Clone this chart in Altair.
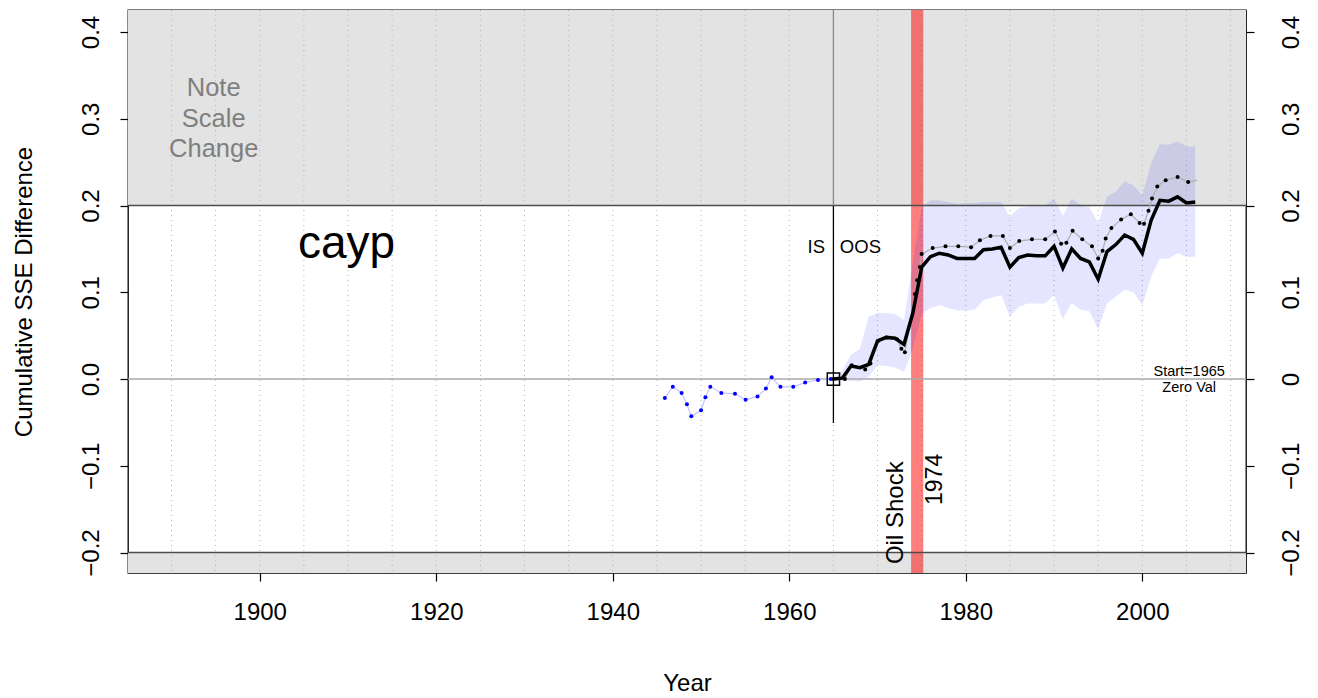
import altair as alt
import pandas as pd

# ---------------- data ----------------
# In-sample (blue dotted) series
is_years = [1945.9, 1946.8, 1947.8, 1948.4, 1948.9, 1950.0, 1950.5, 1951.05, 1952.3, 1953.85,
            1955.05, 1956.4, 1957.35, 1958.0, 1959.0, 1960.45, 1961.8, 1963.25, 1964.7]
is_vals = [-0.022, -0.009, -0.016, -0.029, -0.043, -0.036, -0.021, -0.009, -0.016, -0.017,
           -0.024, -0.020, -0.011, 0.002, -0.009, -0.009, -0.004, -0.001, 0.0]

# Out-of-sample main (solid black) series
oos_years = list(range(1965, 2007))
oos_vals = [0.000, 0.001, 0.015, 0.013, 0.017, 0.044, 0.048, 0.047, 0.040, 0.076,
            0.129, 0.141, 0.145, 0.143, 0.139, 0.139, 0.139, 0.149, 0.150, 0.152,
            0.129, 0.140, 0.143, 0.142, 0.142, 0.153, 0.128, 0.150, 0.139, 0.135,
            0.115, 0.147, 0.155, 0.166, 0.161, 0.145, 0.183, 0.206, 0.205, 0.210,
            0.203, 0.204]

# Secondary (dotted, gray line + black dots) series
dot_years = [1965.0, 1966.3, 1967.07, 1968.6, 1969.2, 1970.1, 1971.0, 1972.2, 1972.7, 1973.1,
             1974.24, 1974.5, 1974.8, 1975.0, 1976.25, 1977.7, 1979.15, 1980.6, 1981.6, 1982.8,
             1984.2, 1985.0, 1986.06, 1987.5, 1989.0, 1990.1, 1990.8, 1991.4, 1992.1, 1993.2,
             1994.3, 1995.0, 1995.5, 1995.85, 1996.5, 1997.6, 1998.7, 1999.7, 2000.2, 2000.7,
             2001.1, 2001.7, 2002.65, 2004.0, 2005.2, 2006.2]
dot_vals = [0.000, 0.000, 0.016, 0.011, 0.018, 0.044, 0.048, 0.046, 0.035, 0.031,
            0.098, 0.114, 0.129, 0.144, 0.151, 0.153, 0.153, 0.152, 0.160, 0.165,
            0.165, 0.151, 0.159, 0.161, 0.161, 0.170, 0.156, 0.157, 0.171, 0.161,
            0.153, 0.139, 0.148, 0.162, 0.174, 0.184, 0.190, 0.180, 0.179, 0.194,
            0.208, 0.222, 0.229, 0.233, 0.227, 0.229]

# Confidence band around the OOS series
band_years = list(range(1965, 2007))
band_lo = [0.000, -0.002, -0.002, -0.003, 0.003, 0.016, 0.015, 0.013, 0.008, 0.035,
           0.075, 0.082, 0.085, 0.082, 0.079, 0.079, 0.080, 0.091, 0.094, 0.097,
           0.072, 0.083, 0.087, 0.087, 0.087, 0.097, 0.069, 0.088, 0.080, 0.078,
           0.057, 0.087, 0.095, 0.103, 0.100, 0.085, 0.118, 0.139, 0.139, 0.145,
           0.141, 0.141]
band_hi = [0.000, 0.010, 0.028, 0.035, 0.072, 0.076, 0.076, 0.075, 0.068, 0.135,
           0.199, 0.206, 0.206, 0.204, 0.202, 0.203, 0.203, 0.204, 0.204, 0.204,
           0.187, 0.197, 0.199, 0.200, 0.200, 0.208, 0.188, 0.208, 0.201, 0.198,
           0.180, 0.210, 0.216, 0.228, 0.223, 0.212, 0.249, 0.271, 0.270, 0.274,
           0.268, 0.268]

# annotations
shock_start, shock_end = [1973.8], [1975.18]
split_year = 1965
x_ticks = [1900, 1920, 1940, 1960, 1980, 2000]
y_ticks = [-0.2, -0.1, 0.0, 0.1, 0.2, 0.3, 0.4]
grid_years = list(range(1890, 2011, 5))
zone_lo = [0.2, -0.2236]
zone_hi = [0.4254, -0.2]

# ---------------- chart ----------------
W, H = 1118, 563
XMIN, XMAX = 1885.07, 2011.75
YMIN, YMAX = -0.2236, 0.4254
FONT = "Liberation Sans"

xs = alt.Scale(domain=[XMIN, XMAX], nice=False, zero=False)
ys = alt.Scale(domain=[YMIN, YMAX], nice=False, zero=False)


def X(field, axis=None):
    return alt.X(field, type="quantitative", scale=xs, axis=axis)


def Y(field, axis=None):
    return alt.Y(field, type="quantitative", scale=ys, axis=axis)


left_axis = alt.Axis(orient="left", values=y_ticks, format=".1f", labelAngle=-90, labelAlign="center",
                     labelBaseline="alphabetic", labelPadding=22, tickSize=8, tickColor="black",
                     tickWidth=1.2, domain=False, grid=False, labelFontSize=24, labelColor="black",
                     title="Cumulative SSE Difference", titleFontSize=24, titleFontWeight="normal",
                     titleColor="black", titleAngle=-90, titleAlign="center",
                     titleBaseline="alphabetic", titleX=-97, titleY=H / 2)
right_axis = alt.Axis(orient="right", values=y_ticks,
                      labelExpr="abs(datum.value) < 1e-9 ? '0' : format(datum.value, '.1f')",
                      labelAngle=-90, labelAlign="center", labelBaseline="alphabetic",
                      labelPadding=44, tickSize=8, tickColor="black", tickWidth=1.2,
                      domain=False, grid=False, labelFontSize=24, labelColor="black", title=None)
bottom_axis = alt.Axis(orient="bottom", values=x_ticks, format="d", tickSize=8, tickColor="black",
                       tickWidth=1.2, domain=False, grid=False, labelFontSize=24, labelColor="black",
                       labelPadding=19, labelBaseline="top", labelAngle=0,
                       title="Year", titleFontSize=24, titleFontWeight="normal", titleColor="black",
                       titleBaseline="alphabetic", titleAlign="center", titleX=W / 2, titleY=117)

zones = alt.Chart(pd.DataFrame({"lo": zone_lo, "hi": zone_hi, "x0": [XMIN] * 2, "x1": [XMAX] * 2})).mark_rect(
    color="#e3e3e3").encode(x=X("x0"), x2="x1", y=Y("lo"), y2="hi")

grid = alt.Chart(pd.DataFrame({"yr": grid_years})).mark_rule(
    color="#b5b5b5", strokeDash=[1, 4], strokeWidth=1).encode(
    x=X("yr"), y=alt.value(0), y2=alt.value(H))

shock = alt.Chart(pd.DataFrame({"a": shock_start, "b": shock_end})).mark_rect(
    color="#ff0000", opacity=0.5).encode(x=X("a"), x2="b", y=alt.value(0), y2=alt.value(H))

band = alt.Chart(pd.DataFrame({"yr": band_years, "lo": band_lo, "hi": band_hi})).mark_area(
    color="#0000ff", opacity=0.1).encode(x=X("yr"), y=Y("lo"), y2="hi")

zero_line = alt.Chart(pd.DataFrame({"v": [0.0], "a": [XMIN], "b": [XMAX]})).mark_rule(
    color="#a8a8a8", strokeWidth=1.5).encode(y=Y("v"), x=X("a"), x2="b")

lim_lines = alt.Chart(pd.DataFrame({"v": [0.2, -0.2], "a": [XMIN] * 2, "b": [XMAX] * 2})).mark_rule(
    color="#4d4d4d", strokeWidth=1.5).encode(y=Y("v"), x=X("a"), x2="b")

split_df = pd.DataFrame({"x": [split_year, split_year], "lo": [-0.0507, 0.2], "hi": [0.2, YMAX],
                         "c": ["#000000", "#8a8a8a"]})
split = alt.Chart(split_df).mark_rule(strokeWidth=1.3).encode(
    x=X("x"), y=Y("lo"), y2="hi", color=alt.Color("c:N", scale=None))

is_df = pd.DataFrame({"yr": is_years, "v": is_vals})
is_line = alt.Chart(is_df).mark_line(color="#c4c4ff", strokeWidth=1.2).encode(x=X("yr"), y=Y("v"))
is_pts = alt.Chart(is_df).mark_circle(color="#0000ff", size=16, opacity=1).encode(x=X("yr"), y=Y("v"))

dot_df = pd.DataFrame({"yr": dot_years, "v": dot_vals})
dot_line = alt.Chart(dot_df).mark_line(color="#b0b0b0", strokeWidth=1.2).encode(x=X("yr"), y=Y("v"))
dot_pts = alt.Chart(dot_df.iloc[:-1]).mark_circle(color="#000000", size=16, opacity=1).encode(
    x=X("yr"), y=Y("v"))

oos_line = alt.Chart(pd.DataFrame({"yr": oos_years, "v": oos_vals})).mark_line(
    color="#000000", strokeWidth=3.5, strokeJoin="miter").encode(x=X("yr"), y=Y("v"))

square = alt.Chart(pd.DataFrame({"yr": [split_year], "v": [0.0]})).mark_point(
    shape="square", size=150, filled=False, color="#000000", strokeWidth=1.5, opacity=1).encode(
    x=X("yr"), y=Y("v"))

# invisible layers that only carry the axes
axis_df = pd.DataFrame({"x": [XMIN, XMAX], "y": [YMIN, YMAX]})
axes_lr = alt.Chart(axis_df).mark_point(opacity=0).encode(x=X("x", bottom_axis), y=Y("y", left_axis))
axes_r = alt.Chart(axis_df).mark_point(opacity=0).encode(x=X("x"), y=Y("y", right_axis))


def text_layer(txt, xv, yv, size, color="#000000", align="center", angle=0):
    df = pd.DataFrame({"t": txt, "x": xv, "y": yv})
    return alt.Chart(df).mark_text(fontSize=size, color=color, align=align, baseline="alphabetic",
                                   angle=angle, font=FONT).encode(x=X("x"), y=Y("y"), text="t:N")


texts = [
    text_layer(["Note", "Scale", "Change"], [1894.78] * 3, [0.3262, 0.2901, 0.2563], 25.5, "#7f7f7f"),
    text_layer(["cayp"], [1904.33], [0.1395], 46, align="left"),
    text_layer(["IS"], [1964.05], [0.1449], 18.5, align="right"),
    text_layer(["OOS"], [1965.73], [0.1449], 18.5, align="left"),
    text_layer(["Oil Shock"], [1972.92], [-0.2133], 24, align="left", angle=270),
    text_layer(["1974"], [1977.27], [-0.1452], 23, align="left", angle=270),
    text_layer(["Start=1965"], [2005.31], [0.0035], 14.5),
    text_layer(["Zero Val"], [2005.31], [-0.0145], 14.5),
]

chart = alt.layer(
    axes_lr, axes_r, zones, grid, shock, band, zero_line, lim_lines, split,
    is_line, is_pts, dot_line, dot_pts, oos_line, square, *texts
).resolve_scale(x="independent", y="independent").properties(
    width=W, height=H,
    autosize=alt.AutoSizeParams(type="none"),
    padding={"left": 120, "top": 2, "right": 56, "bottom": 127},
).configure(font=FONT).configure_axis(grid=False).configure_view(stroke="#000000", strokeWidth=1.3)

chart.save("out.html", embed_options={"renderer": "svg", "actions": False})
